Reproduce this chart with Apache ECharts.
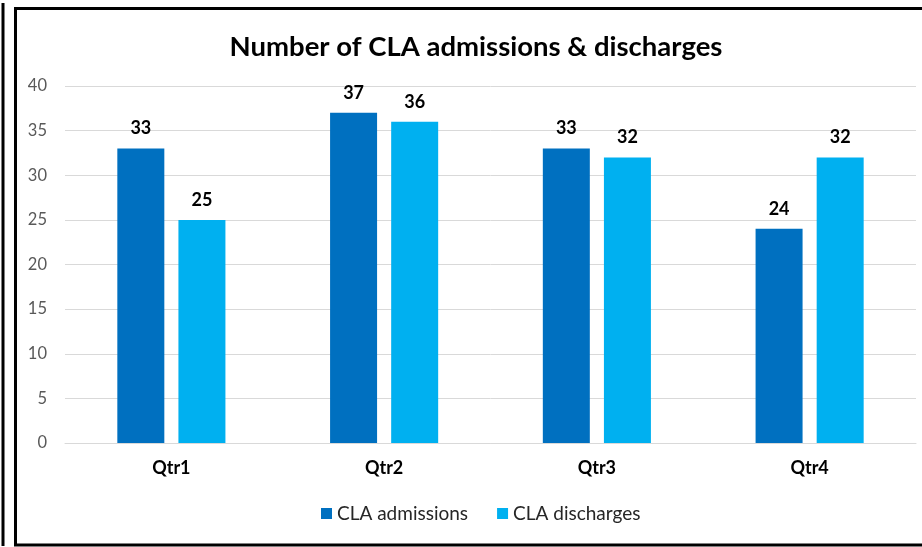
<!DOCTYPE html>
<html>
<head>
<meta charset="utf-8">
<script src="https://cdn.jsdelivr.net/npm/echarts@6/dist/echarts.min.js"></script>
<style>html,body{margin:0;padding:0;background:#fff}#c{width:922px;height:547px}</style>
</head>
<body>
<div id="c"></div>
<script>
const categories = ['Qtr1', 'Qtr2', 'Qtr3', 'Qtr4'];
const admissions = [33, 37, 33, 24];
const discharges = [25, 36, 32, 32];
const seriesNames = ['CLA admissions', 'CLA discharges'];
const titleText = 'Number of CLA admissions & discharges';

const FONT = 'Lato, "Open Sans", sans-serif';
const chart = echarts.init(document.getElementById('c'), null, {renderer: 'canvas'});
const labelStyle = {show: true, position: 'top', distance: 11, color: '#000', fontWeight: 'bold', fontSize: 18, fontFamily: FONT};
chart.setOption({
  backgroundColor: '#fff',
  animation: false,
  title: {
    text: titleText, left: 471, top: 28, textAlign: 'center',
    textStyle: {fontFamily: FONT, fontWeight: 'bold', fontSize: 27.5, color: '#000'}
  },
  legend: {
    data: seriesNames, bottom: 19, left: 316,
    itemWidth: 11, itemHeight: 11, itemGap: 29, icon: 'rect',
    textStyle: {fontFamily: FONT, fontSize: 19, color: '#262626'}
  },
  grid: {left: 65, right: 6, top: 86, bottom: 104, containLabel: false},
  xAxis: {
    type: 'category', data: categories,
    axisLine: {show: true, lineStyle: {color: '#d9d9d9', width: 1}},
    axisTick: {show: false},
    axisLabel: {color: '#000', fontWeight: 'bold', fontSize: 18, fontFamily: FONT, margin: 16}
  },
  yAxis: {
    type: 'value', min: 0, max: 40, interval: 5,
    axisLine: {show: false}, axisTick: {show: false},
    splitLine: {lineStyle: {color: '#d9d9d9', width: 1}},
    axisLabel: {color: '#595959', fontSize: 16.5, fontFamily: FONT, margin: 18}
  },
  series: [
    {name: seriesNames[0], type: 'bar', data: admissions, barWidth: 47, barGap: '30%',
     itemStyle: {color: '#0070c0'}, label: labelStyle},
    {name: seriesNames[1], type: 'bar', data: discharges, barWidth: 47,
     itemStyle: {color: '#00b0f0'}, label: labelStyle}
  ],
  graphic: [
    {type: 'rect', shape: {x: 15.5, y: 8.5, width: 920, height: 536.5}, style: {fill: 'none', stroke: '#000', lineWidth: 3}, z: 100},
    {type: 'line', shape: {x1: 3, y1: 3, x2: 3, y2: 546}, style: {stroke: '#000', lineWidth: 3}, z: 100}
  ]
});
</script>
</body>
</html>
